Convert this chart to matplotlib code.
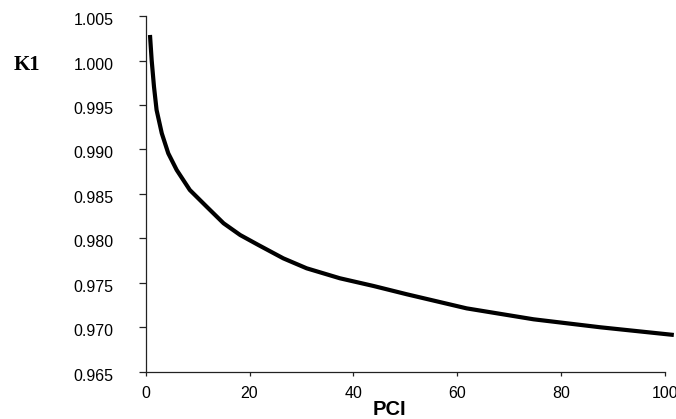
import numpy as np
import matplotlib.pyplot as plt
import matplotlib.transforms as mtransforms

# values
pci = [0.83, 1.15, 1.6, 2.1, 3.1, 4.35, 5.97, 8.5, 11.75, 15, 18.2, 21.7,
       26.5, 31.0, 37.4, 43.9, 50.3, 61.8, 74.7, 87.6, 101.7]
k1 = [1.00287, 1.00006, 0.99706, 0.99444, 0.99182, 0.98957, 0.98770, 0.98545,
      0.98357, 0.98171, 0.98039, 0.97927, 0.97777, 0.97665, 0.97553, 0.97466,
      0.97373, 0.97215, 0.97092, 0.97002, 0.96916]

x_ticks = [0, 20, 40, 60, 80, 100]
y_ticks = [0.965, 0.970, 0.975, 0.980, 0.985, 0.990, 0.995, 1.000, 1.005]

fig = plt.figure(figsize=(6.76, 4.19), dpi=100)
ax = fig.add_axes([0.2155, 0.1122, 0.7682, 0.8496])

ax.plot(pci, k1, color='black', lw=3, solid_capstyle='butt',
        solid_joinstyle='round', clip_on=False)

ax.set_xlim(0, 100)
ax.set_ylim(0.965, 1.005)
ax.set_xticks(x_ticks)
ax.set_yticks(y_ticks)
ax.set_xticklabels([str(v) for v in x_ticks], fontfamily='Liberation Sans', fontsize=11.5)
ax.set_yticklabels(['%.3f' % v for v in y_ticks], fontfamily='Liberation Sans', fontsize=11.5)

for s in ['top', 'right']:
    ax.spines[s].set_visible(False)
for s in ['left', 'bottom']:
    ax.spines[s].set_linewidth(0.9)
    ax.spines[s].set_color('#222222')

ax.tick_params(axis='y', direction='out', length=5, width=0.9, pad=18, color='#222222')
ax.tick_params(axis='x', direction='out', length=3, width=0.9, pad=7, color='#222222')

# nudge y tick labels down a little like the original
offset = mtransforms.ScaledTranslation(0, -3 / 100, fig.dpi_scale_trans)
for lab in ax.get_yticklabels():
    lab.set_transform(lab.get_transform() + offset)

fig.text(27 / 676, 1 - 65 / 419, 'K1', fontfamily='Liberation Serif', fontweight='bold',
         fontsize=15, ha='center', va='center')
fig.text(389 / 676, 1 - 409 / 419, 'PCI', fontfamily='Liberation Sans', fontweight='bold',
         fontsize=14.5, ha='center', va='center')

fig.savefig('out.png', dpi=100)
